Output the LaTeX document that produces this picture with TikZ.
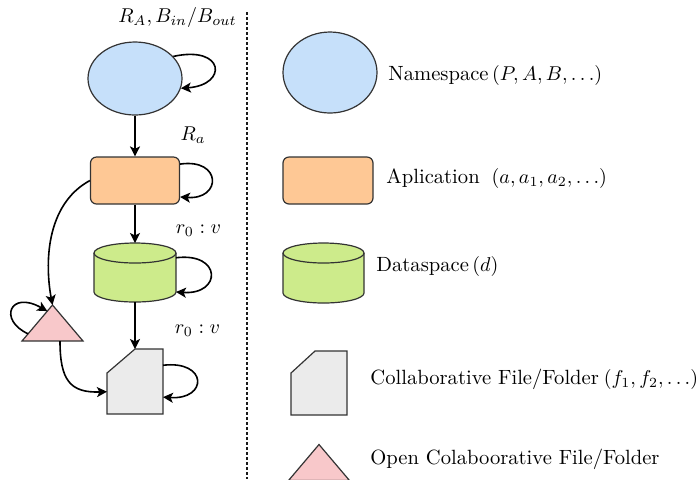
\documentclass[tikz,border=0pt]{standalone}
\usetikzlibrary{arrows.meta,calc,shapes.geometric}
\definecolor{nsblue}{HTML}{C6E0FA}
\definecolor{apporange}{HTML}{FEC895}
\definecolor{dsgreen}{HTML}{CDEB8B}
\definecolor{filegray}{HTML}{EBEBEB}
\definecolor{openpink}{HTML}{F8C8CA}
\definecolor{outl}{HTML}{333333}
\newcommand\drawcyl[3]{%
  \path[draw=outl,line width=0.6pt,fill=#3]
    ($(#1.north west)+(0,10)$) -- ($(#1.south west)+(0,-10)$)
    arc[start angle=180,end angle=360,x radius=#2,y radius=5pt]
    -- ($(#1.north east)+(0,10)$)
    arc[start angle=0,end angle=180,x radius=#2,y radius=5pt] -- cycle;
  \draw[outl,line width=0.6pt] ($(#1.north west)+(0,10)$)
    arc[start angle=180,end angle=360,x radius=#2,y radius=5pt];}
\begin{document}
\begin{tikzpicture}[x=0.5pt,y=-0.5pt,
  shapeline/.style={draw=outl,line width=0.6pt},
  nsnode/.style={shapeline,ellipse,fill=nsblue,inner sep=0},
  appnode/.style={shapeline,rectangle,rounded corners=3pt,fill=apporange,inner sep=0},
  holder/.style={rectangle,inner sep=0,outer sep=0},
  arr/.style={-{Stealth[length=5pt,width=5pt,inset=1.2pt]},line width=0.8pt,black},
  lbl/.style={font=\fontsize{10.3}{12}\selectfont,inner sep=0},
  legtext/.style={lbl,anchor=west},
  dotline/.style={line width=1.3pt,dash pattern=on 1.3pt off 1.2pt,black!90}]
\useasboundingbox (0,0) rectangle (700,479);

% divider
\coordinate (dtop) at (247,12);
\coordinate (dbot) at (247,479);
\draw[dotline] (dtop) -- (dbot);

% ---------- left graph ----------
\node[nsnode,minimum width=47pt,minimum height=36.5pt] (ns) at (135,78.5) {};
\node[appnode,minimum width=44.5pt,minimum height=23.5pt] (app) at (135,180.5) {};
\node[holder,minimum width=41pt,minimum height=29.5pt] (cyl) at (135,272.5) {};
\drawcyl{cyl}{20.5pt}{dsgreen}
\node[holder,minimum width=28pt,minimum height=32.5pt] (fold) at (135,381.5) {};
\path[shapeline,fill=filegray] ($(fold.north west)+(0,24)$) -- (fold.north)
  -- (fold.north east) -- (fold.south east) -- (fold.south west) -- cycle;
\node[holder,minimum width=30.5pt,minimum height=18pt] (tri) at (52.5,323) {};
\path[shapeline,fill=openpink] (tri.north) -- (tri.south east) -- (tri.south west) -- cycle;

% labels
\node[lbl] (lab1) at (177.5,17) {$R_A, B_{in}/B_{out}$};
\node[lbl] (lab2) at (193,135) {$R_a$};
\node[lbl] (lab3) at (198.5,231) {$r_0 : v$};
\node[lbl] (lab4) at (197.5,331) {$r_0 : v$};

% connectors
\draw[arr] (ns.south) -- (app.north);
\draw[arr] (app.south) -- (cyl.north);
\draw[arr] (cyl.south) -- (fold.north);
\draw[arr] (app.west) .. controls (45,205) and (45,265) .. (tri.north);
\draw[arr] ($(tri.south)+(7.5,0)$) .. controls (60,380) and (70,393) .. (fold.200);

% self loops
\draw[arr] (ns.30) .. controls (225,45) and (228,85) .. (ns.-12);
\draw[arr] (app.20) .. controls (222,158) and (222,200) .. (app.-20);
\draw[arr] ($(cyl.north east)!0.25!(cyl.south east)$) .. controls (222,252) and (222,295) ..
  ($(cyl.north east)!0.83!(cyl.south east)$);
\draw[arr] ($(fold.north east)!0.25!(fold.south east)$) .. controls (208,360) and (208,400) ..
  ($(fold.north east)!0.74!(fold.south east)$);
\draw[arr] ($(tri.north)!0.8!(tri.south west)$) .. controls (-2,320) and (10,290) ..
  ($(tri.north)!0.17!(tri.south west)$);

% ---------- legend ----------
\node[nsnode,minimum width=47pt,minimum height=40.5pt] (lns) at (330,72.5) {};
\node[legtext] (tns) at (388,75) {Namespace\,$(P, A, B, \ldots)$};

\node[appnode,minimum width=45pt,minimum height=23.5pt] (lapp) at (328,180.5) {};
\node[legtext] (tapp) at (386,178) {Aplication\hspace{6pt}$(a, a_1, a_2, \ldots)$};

\node[holder,minimum width=40.5pt,minimum height=30pt] (lcyl) at (323.5,273) {};
\drawcyl{lcyl}{20.25pt}{dsgreen}
\node[legtext] (tcyl) at (376,266) {Dataspace\,$(d)$};

\node[holder,minimum width=28pt,minimum height=32pt] (lfold) at (319,383) {};
\path[shapeline,fill=filegray] ($(lfold.north west)+(0,22)$) -- ($(lfold.north west)+(24,0)$)
  -- (lfold.north east) -- (lfold.south east) -- (lfold.south west) -- cycle;
\node[legtext] (tfold) at (370,379) {Collaborative File/Folder\hspace{2.5pt}$(f_1, f_2, \ldots)$};

\node[holder,minimum width=30.5pt,minimum height=18pt] (ltri) at (319,462.5) {};
\path[shapeline,fill=openpink] (ltri.north) -- (ltri.south east) -- (ltri.south west) -- cycle;
\node[legtext] (ttri) at (370,459) {Open Colaboorative File/Folder};
\end{tikzpicture}
\end{document}
